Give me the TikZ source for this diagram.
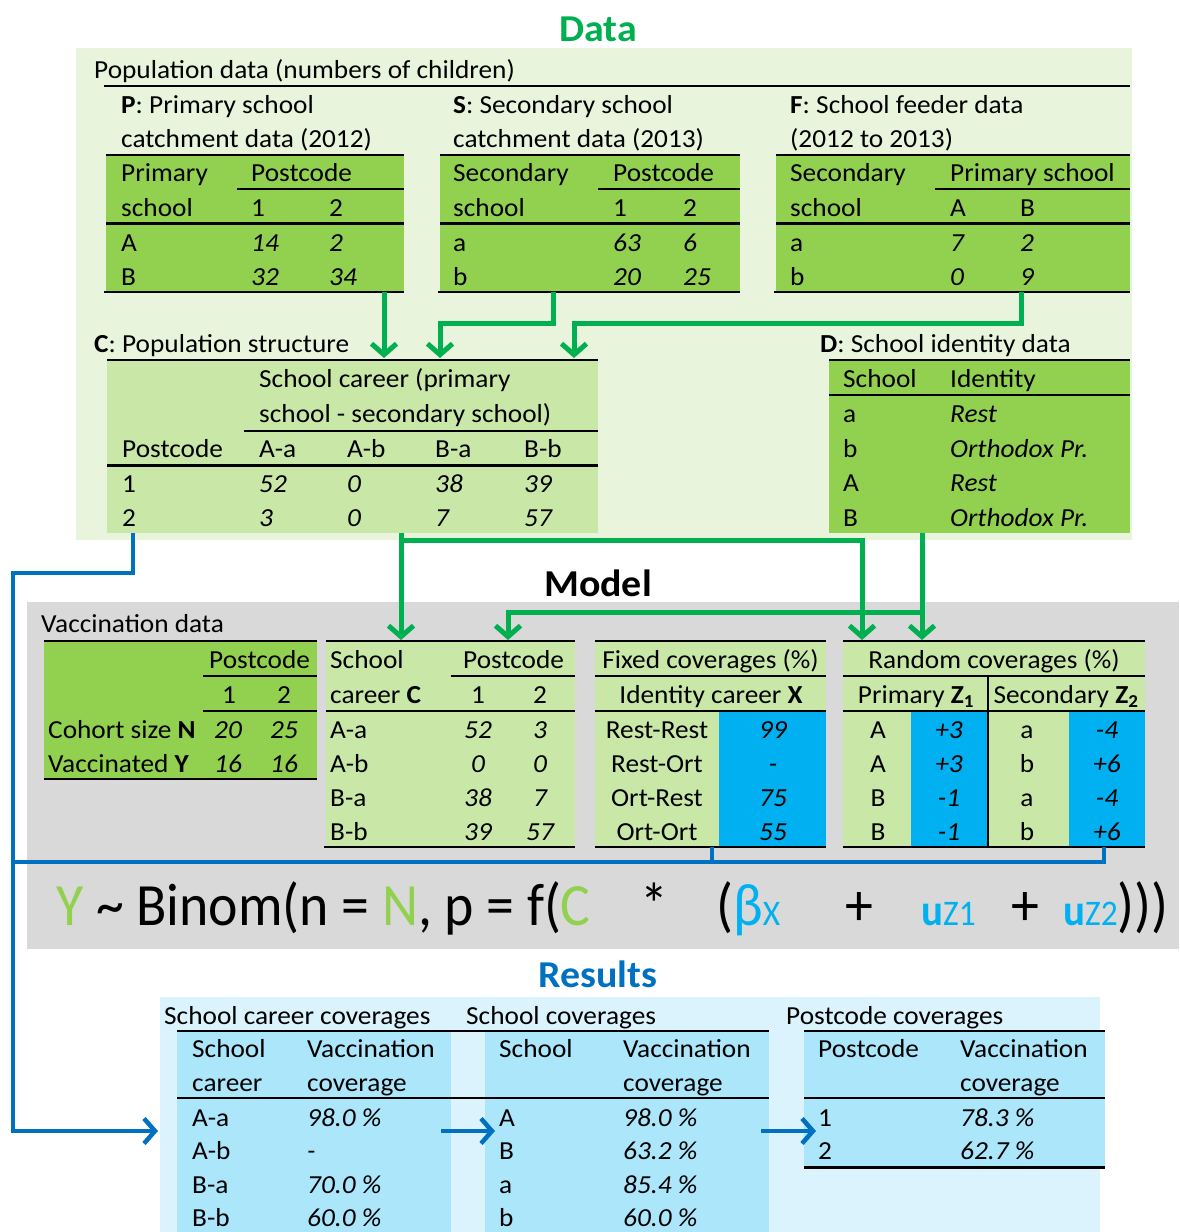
\documentclass[tikz,border=0pt]{standalone}
\usepackage{fontspec}
\setmainfont{Carlito}[FakeStretch=1.05]
\newfontfamily\formulafont[FakeStretch=0.93]{Carlito}
\usetikzlibrary{arrows.meta,positioning}
\definecolor{datagreen}{HTML}{00B050}
\definecolor{panelgreen}{HTML}{E8F4DC}
\definecolor{brightgreen}{HTML}{92D050}
\definecolor{lightgreen}{HTML}{C9E8A8}
\definecolor{panelgray}{HTML}{D9D9D9}
\definecolor{cellblue}{HTML}{00B0F0}
\definecolor{lineblue}{HTML}{0070C0}
\definecolor{panelblue}{HTML}{DAF3FD}
\definecolor{tabblue}{HTML}{ABE6FB}
\newcommand\tabfont{\fontsize{26}{31}\selectfont}
\newcommand\fmlsub[1]{{\fontsize{36}{38}\selectfont #1}}
\newcommand\fmlu{{\fontsize{44}{48}\selectfont\bfseries u}}
\begin{document}
\begin{tikzpicture}[x=1pt,y=-1pt,
  every node/.style={font=\tabfont,inner sep=0pt,text height=17pt,text depth=0pt},
  lt/.style={anchor=west},
  it/.style={anchor=west,font=\tabfont\itshape},
  ct/.style={anchor=center},
  ci/.style={anchor=center,font=\tabfont\itshape},
  tab/.style={anchor=north west},
  rule/.style={line width=2.5pt},
  heading/.style={anchor=base,font=\fontsize{38}{42}\selectfont\bfseries},
  fml/.style={anchor=base west,font=\formulafont\fontsize{60}{64}\selectfont},
  garrow/.style={draw=datagreen,line width=5pt,-{Straight Barb[length=11pt,width=25pt]}},
  barrow/.style={draw=lineblue,line width=4.5pt,-{Straight Barb[length=11pt,width=25pt]}},
  bline/.style={draw=lineblue,line width=4.5pt}]
\useasboundingbox (0,0) rectangle (1179,1232);
% panels
\node[tab,fill=panelgreen,minimum width=1056pt,minimum height=492pt] (datapanel) at (76,48) {};
\node[tab,fill=panelgray,minimum width=1152pt,minimum height=347pt] (modelpanel) at (27,602) {};
\node[tab,fill=panelblue,minimum width=940pt,minimum height=235pt] (respanel) at (160,997) {};
\node[heading,text=datagreen] (tdata) at (598,41) {Data};
\node[heading] (tmodel) at (598,596) {Model};
\node[heading,text=lineblue] (tres) at (598,987) {Results};
%% population data
\node[lt] (popdata) at (94,70) {Population data (numbers of children)};
\draw[rule] (104,86) -- (1130,86);
% P
\node[tab,fill=brightgreen,minimum width=298pt,minimum height=137pt] (P) at (106,155) {};
\node[lt] (Pt1) at (121,105) {\textbf{P}: Primary school};
\node[lt] (Pt2) at (121,139) {catchment data (2012)};
\draw[rule] (P.north west) -- (P.north east);
\draw[rule] (237,189) -- (404,189);
\draw[rule] (106,223.5) -- (404,223.5);
\draw[rule] (104,292) -- (404,292);
\node[lt] (Ph1) at (121,172.5) {Primary};
\node[lt] (Ph2) at (251,172.5) {Postcode};
\node[lt] (Ph3) at (121,207.5) {school};
\node[lt] (Ph4) at (251,207.5) {1};
\node[lt] (Ph5) at (329,207.5) {2};
\foreach \y/\a/\b/\c [count=\i] in {243/A/14/2,277/B/32/34}{
  \node[lt] (P-\i-0) at (121,\y) {\a};
  \node[it] (P-\i-1) at (251,\y) {\b};
  \node[it] (P-\i-2) at (329,\y) {\c};}
% S
\node[tab,fill=brightgreen,minimum width=300pt,minimum height=137pt] (S) at (440,155) {};
\node[lt] (St1) at (453,105) {\textbf{S}: Secondary school};
\node[lt] (St2) at (453,139) {catchment data (2013)};
\draw[rule] (S.north west) -- (S.north east);
\draw[rule] (598,189) -- (740,189);
\draw[rule] (440,223.5) -- (740,223.5);
\draw[rule] (438,292) -- (740,292);
\node[lt] (Sh1) at (453,172.5) {Secondary};
\node[lt] (Sh2) at (613,172.5) {Postcode};
\node[lt] (Sh3) at (453,207.5) {school};
\node[lt] (Sh4) at (613,207.5) {1};
\node[lt] (Sh5) at (683,207.5) {2};
\foreach \y/\a/\b/\c [count=\i] in {243/a/63/6,277/b/20/25}{
  \node[lt] (S-\i-0) at (453,\y) {\a};
  \node[it] (S-\i-1) at (613,\y) {\b};
  \node[it] (S-\i-2) at (683,\y) {\c};}
% F
\node[tab,fill=brightgreen,minimum width=354pt,minimum height=137pt] (F) at (776,155) {};
\node[lt] (Ft1) at (790,105) {\textbf{F}: School feeder data};
\node[lt] (Ft2) at (790,139) {(2012 to 2013)};
\draw[rule] (F.north west) -- (F.north east);
\draw[rule] (935,189) -- (1130,189);
\draw[rule] (776,223.5) -- (1130,223.5);
\draw[rule] (774,292) -- (1130,292);
\node[lt] (Fh1) at (790,172.5) {Secondary};
\node[lt] (Fh2) at (950,172.5) {Primary school};
\node[lt] (Fh3) at (790,207.5) {school};
\node[lt] (Fh4) at (950,207.5) {A};
\node[lt] (Fh5) at (1020,207.5) {B};
\foreach \y/\a/\b/\c [count=\i] in {243/a/7/2,277/b/0/9}{
  \node[lt] (F-\i-0) at (790,\y) {\a};
  \node[it] (F-\i-1) at (950,\y) {\b};
  \node[it] (F-\i-2) at (1020,\y) {\c};}
% C
\node[tab,fill=lightgreen,minimum width=491pt,minimum height=173pt] (C) at (107,360) {};
\node[lt] (Ct) at (94,344) {\textbf{C}: Population structure};
\draw[rule] (C.north west) -- (C.north east);
\draw[rule] (244,431) -- (598,431);
\draw[rule] (107,465.5) -- (598,465.5);
\node[lt] (Ch1) at (259,379) {School career (primary};
\node[lt] (Ch2) at (259,413.5) {school - secondary school)};
\foreach \x/\t [count=\i] in {122/Postcode,259/A-a,347/A-b,435/B-a,524/B-b}
  \node[lt] (Cc-\i) at (\x,449) {\t};
\foreach \y/\a/\b/\c/\d/\e [count=\i] in {483.5/1/52/0/38/39,518/2/3/0/7/57}{
  \node[lt] (C-\i-0) at (122,\y) {\a};
  \node[it] (C-\i-1) at (259,\y) {\b};
  \node[it] (C-\i-2) at (347,\y) {\c};
  \node[it] (C-\i-3) at (435,\y) {\d};
  \node[it] (C-\i-4) at (524,\y) {\e};}
% D
\node[tab,fill=brightgreen,minimum width=301pt,minimum height=173pt] (D) at (829,360) {};
\node[lt] (Dt) at (820,344) {\textbf{D}: School identity data};
\draw[rule] (D.north west) -- (D.north east);
\draw[rule] (829,395) -- (1130,395);
\node[lt] (Dh1) at (843,379) {School};
\node[lt] (Dh2) at (950,379) {Identity};
\foreach \y/\a/\b [count=\i] in {414/a/Rest,448.5/b/Orthodox Pr.,483/A/Rest,517.5/B/Orthodox Pr.}{
  \node[lt] (D-\i-0) at (843,\y) {\a};
  \node[it] (D-\i-1) at (950,\y) {\b};}
%% model
\node[lt] (vacdata) at (41,624) {Vaccination data};
% V
\node[tab,fill=brightgreen,minimum width=273pt,minimum height=138pt] (V) at (44,641) {};
\draw[rule] (V.north west) -- (V.north east);
\draw[rule] (203,676) -- (317,676);
\draw[rule] (203,711) -- (317,711);
\draw[rule] (44,779) -- (317,779);
\node[lt] (Vh1) at (209,660) {Postcode};
\node[ct] (Vh2) at (229,695) {1};
\node[ct] (Vh3) at (284,695) {2};
\node[lt] (V-1-0) at (48,730) {Cohort size \textbf{N}};
\node[ci] (V-1-1) at (228,730) {20};
\node[ci] (V-1-2) at (284,730) {25};
\node[lt] (V-2-0) at (48,764) {Vaccinated \textbf{Y}};
\node[ci] (V-2-1) at (228,764) {16};
\node[ci] (V-2-2) at (284,764) {16};
% career table
\node[tab,fill=lightgreen,minimum width=249pt,minimum height=206pt] (MC) at (326,641) {};
\draw[rule] (MC.north west) -- (MC.north east);
\draw[rule] (451,676) -- (575,676);
\draw[rule] (326,711) -- (575,711);
\draw[rule] (324,847) -- (575,847);
\node[lt] (MCh1) at (330,660) {School};
\node[lt] (MCh2) at (463,660) {Postcode};
\node[lt] (MCh3) at (330,695) {career \textbf{C}};
\node[ct] (MCh4) at (478,695) {1};
\node[ct] (MCh5) at (540,695) {2};
\foreach \y/\a/\b/\c [count=\i] in {730/A-a/52/3,764/A-b/0/0,798/B-a/38/7,832/B-b/39/57}{
  \node[lt] (MC-\i-0) at (330,\y) {\a};
  \node[ci] (MC-\i-1) at (478,\y) {\b};
  \node[ci] (MC-\i-2) at (540,\y) {\c};}
% X
\node[tab,fill=lightgreen,minimum width=231pt,minimum height=206pt] (X) at (595,641) {};
\fill[cellblue] (719,711) rectangle (826,847);
\draw[rule] (X.north west) -- (X.north east);
\draw[rule] (595,676) -- (826,676);
\draw[rule] (595,711) -- (826,711);
\draw[rule] (595,847) -- (826,847);
\node[ct] (Xh1) at (710.5,660) {Fixed coverages (\%)};
\node[ct] (Xh2) at (711,695) {Identity career \textbf{X}};
\foreach \y/\a/\b [count=\i] in {730/Rest-Rest/99,764/Rest-Ort/-,798/Ort-Rest/75,832/Ort-Ort/55}{
  \node[ct] (X-\i-0) at (657,\y) {\a};
  \node[ci] (X-\i-1) at (773,\y) {\b};}
% Z
\node[tab,fill=lightgreen,minimum width=302pt,minimum height=206pt] (Z) at (843,641) {};
\fill[cellblue] (911,711) rectangle (988,847);
\fill[cellblue] (1069,711) rectangle (1145,847);
\draw[rule] (Z.north west) -- (Z.north east);
\draw[rule] (843,676) -- (1145,676);
\draw[rule] (843,711) -- (1145,711);
\draw[rule] (843,847) -- (1145,847);
\draw[rule] (988,676) -- (988,847);
\node[ct] (Zh1) at (994,660) {Random coverages (\%)};
\node[ct] (Zh2) at (916,695) {Primary \textbf{Z\textsubscript{1}}};
\node[ct] (Zh3) at (1066,695) {Secondary \textbf{Z\textsubscript{2}}};
\foreach \y/\a/\b/\c/\d [count=\i] in {730/A/+3/a/-4,764/A/+3/b/+6,798/B/-1/a/-4,832/B/-1/b/+6}{
  \node[ct] (Z-\i-0) at (878,\y) {\a};
  \node[ci] (Z-\i-1) at (949,\y) {\b};
  \node[ct] (Z-\i-2) at (1027,\y) {\c};
  \node[ci] (Z-\i-3) at (1107,\y) {\d};}
% formula
\node[fml] (f1) at (56,925) {\textcolor{brightgreen}{Y} \textasciitilde{} Binom(n = \textcolor{brightgreen}{N}, p = f(\textcolor{brightgreen}{C}};
\node[fml] (f2) at (640,925) {*};
\node[fml] (f3) at (716,925) {(\textcolor{cellblue}{β\fmlsub{X}}};
\node[fml] (f4) at (845,925) {+};
\node[fml] (f5) at (921,925) {\textcolor{cellblue}{\fmlu\fmlsub{Z1}}};
\node[fml] (f6) at (1011,925) {+};
\node[fml] (f7) at (1063,925) {\textcolor{cellblue}{\fmlu\fmlsub{Z2}})))};
%% results
\node[tab,fill=tabblue,minimum width=274pt,minimum height=201pt] (R1) at (177,1031) {};
\node[tab,fill=tabblue,minimum width=284pt,minimum height=201pt] (R2) at (485,1031) {};
\node[tab,fill=tabblue,minimum width=301pt,minimum height=136pt] (R3) at (804,1031) {};
\draw[rule] (R1.north west) -- (R2.north east);
\draw[rule] (177,1098) -- (769,1098);
\draw[rule] (R3.north west) -- (R3.north east);
\draw[rule] (804,1098) -- (1105,1098);
\draw[rule] (R3.south west) -- (R3.south east);
\node[lt] (R1t) at (164,1016) {School career coverages};
\node[lt] (R2t) at (466,1016) {School coverages};
\node[lt] (R3t) at (786,1016) {Postcode coverages};
\node[lt] (R1h1) at (192,1049) {School};
\node[lt] (R1h2) at (307,1049) {Vaccination};
\node[lt] (R1h3) at (192,1083) {career};
\node[lt] (R1h4) at (307,1083) {coverage};
\node[lt] (R2h1) at (499,1049) {School};
\node[lt] (R2h2) at (623,1049) {Vaccination};
\node[lt] (R2h3) at (623,1083) {coverage};
\node[lt] (R3h1) at (818,1049) {Postcode};
\node[lt] (R3h2) at (960,1049) {Vaccination};
\node[lt] (R3h3) at (960,1083) {coverage};
\foreach \y/\a/\b/\c/\d [count=\i] in {1118/A-a/98.0 \%/A/98.0 \%,1151/A-b/-/B/63.2 \%,1185/B-a/70.0 \%/a/85.4 \%,1218/B-b/60.0 \%/b/60.0 \%}{
  \node[lt] (R1-\i-0) at (192,\y) {\a};
  \node[it] (R1-\i-1) at (307,\y) {\b};
  \node[lt] (R2-\i-0) at (499,\y) {\c};
  \node[it] (R2-\i-1) at (623,\y) {\d};}
\foreach \y/\a/\b [count=\i] in {1118/1/78.3 \%,1151/2/62.7 \%}{
  \node[lt] (R3-\i-0) at (818,\y) {\a};
  \node[it] (R3-\i-1) at (960,\y) {\b};}
%% connectors
\coordinate (cP) at (384,358);
\coordinate (cS) at (440,358);
\coordinate (cF) at (574,358);
\coordinate (sS) at (553,323);
\coordinate (sF) at (1021,323);
\draw[garrow] (P.south -| cP) -- (cP);
\draw[garrow] (S.south -| sS) -- (sS) -| (cS);
\draw[garrow] (F.south -| sF) -- (sF) -| (cF);
\coordinate (mC) at (401,640);
\coordinate (mP) at (508,640);
\coordinate (mZ) at (862,640);
\coordinate (mD) at (922,640);
\coordinate (jC) at (401,540);
\coordinate (jD) at (922,612);
\draw[garrow] (C.south -| mC) -- (mC);
\draw[garrow] (jC) -| (mZ);
\draw[garrow] (D.south -| mD) -- (mD);
\draw[garrow] (jD) -| (mP);
\coordinate (bC) at (133,573);
\coordinate (bL) at (13,573);
\coordinate (rA) at (158,1131);
\coordinate (bX) at (712,862);
\coordinate (bZ) at (1104,862);
\draw[barrow] (C.south -| bC) |- (bL) -- (bL |- rA) -- (rA);
\draw[bline] (X.south -| bX) -- (bX);
\draw[bline] (Z.south -| bZ) |- (bL |- bZ);
\coordinate (a1s) at (441,1131);
\coordinate (a1e) at (495,1131);
\coordinate (a2s) at (761,1131);
\coordinate (a2e) at (816,1131);
\draw[barrow] (a1s) -- (a1e);
\draw[barrow] (a2s) -- (a2e);
\end{tikzpicture}
\end{document}
